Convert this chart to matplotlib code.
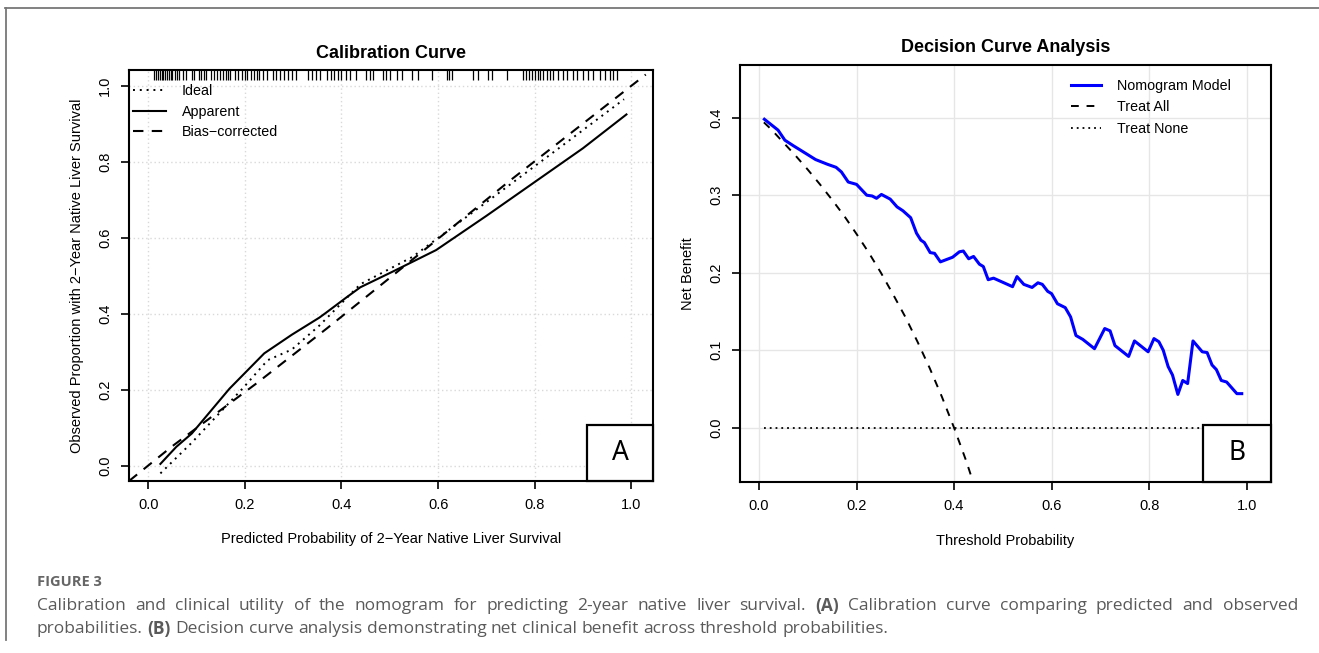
import matplotlib
matplotlib.use('Agg')
import matplotlib.pyplot as plt
from matplotlib.lines import Line2D
from matplotlib.patches import Rectangle

plt.rcParams['font.family'] = ['Liberation Sans', 'DejaVu Sans']

# Kalibrierungskurve (Panel A)
rug_x = [0.012, 0.016, 0.02, 0.024, 0.028, 0.031, 0.035, 0.039, 0.043, 0.047, 0.05,
         0.055, 0.06, 0.064, 0.072, 0.078, 0.09, 0.095, 0.105, 0.11, 0.115, 0.12,
         0.13, 0.136, 0.142, 0.148, 0.155, 0.16, 0.166, 0.17, 0.18, 0.186, 0.195,
         0.2, 0.205, 0.212, 0.218, 0.225, 0.23, 0.238, 0.246, 0.258, 0.265, 0.272,
         0.28, 0.29, 0.298, 0.306, 0.33, 0.338, 0.348, 0.355, 0.37, 0.378, 0.385,
         0.393, 0.4, 0.41, 0.417, 0.43, 0.45, 0.458, 0.465, 0.485, 0.492, 0.5,
         0.515, 0.525, 0.545, 0.558, 0.587, 0.618, 0.622, 0.628, 0.672, 0.683,
         0.703, 0.712, 0.743, 0.776, 0.782, 0.788, 0.795, 0.8, 0.806, 0.812, 0.818,
         0.825, 0.832, 0.838, 0.848, 0.858, 0.867, 0.88, 0.888, 0.9, 0.91, 0.92,
         0.935, 0.945, 0.955, 0.962, 0.97]

ideal_x = [0.025, 0.09, 0.197, 0.247, 0.297, 0.354, 0.439, 0.547, 0.70, 0.85, 0.985]
ideal_y = [-0.02, 0.061, 0.206, 0.278, 0.306, 0.369, 0.478, 0.550, 0.694, 0.836, 0.965]

apparent_x = [0.025, 0.058, 0.09, 0.168, 0.24, 0.297, 0.354, 0.368, 0.411, 0.439,
              0.504, 0.539, 0.596, 0.70, 0.80, 0.90, 0.99]
apparent_y = [0.005, 0.05, 0.085, 0.203, 0.296, 0.345, 0.39, 0.403, 0.444, 0.47,
              0.51, 0.532, 0.568, 0.658, 0.747, 0.836, 0.925]

bias_x = [-0.04, 0.05, 0.225, 0.37, 0.51, 0.75, 1.03]
bias_y = [-0.04, 0.052, 0.218, 0.362, 0.505, 0.752, 1.03]

# Entscheidungskurve (Panel B)
model_x = [0.011, 0.039, 0.053, 0.070, 0.088, 0.116, 0.140, 0.158, 0.169, 0.183,
           0.200, 0.221, 0.232, 0.241, 0.251, 0.269, 0.283, 0.295, 0.311, 0.323,
           0.332, 0.339, 0.351, 0.360, 0.372, 0.397, 0.411, 0.419, 0.430, 0.440,
           0.452, 0.460, 0.470, 0.481, 0.520, 0.529, 0.543, 0.560, 0.572, 0.581,
           0.592, 0.600, 0.612, 0.628, 0.639, 0.650, 0.664, 0.688, 0.709, 0.720,
           0.730, 0.758, 0.770, 0.798, 0.810, 0.820, 0.829, 0.839, 0.848, 0.859,
           0.869, 0.879, 0.890, 0.909, 0.919, 0.929, 0.938, 0.948, 0.959, 0.980,
           0.990]
model_y = [0.398, 0.384, 0.371, 0.364, 0.357, 0.346, 0.340, 0.336, 0.330, 0.317,
           0.314, 0.300, 0.299, 0.296, 0.301, 0.295, 0.285, 0.280, 0.271, 0.251,
           0.242, 0.239, 0.226, 0.225, 0.214, 0.220, 0.227, 0.228, 0.218, 0.221,
           0.211, 0.208, 0.191, 0.193, 0.182, 0.195, 0.185, 0.181, 0.187, 0.185,
           0.176, 0.173, 0.160, 0.155, 0.143, 0.119, 0.114, 0.102, 0.128, 0.125,
           0.106, 0.092, 0.112, 0.098, 0.115, 0.111, 0.100, 0.079, 0.068, 0.043,
           0.061, 0.057, 0.112, 0.098, 0.097, 0.081, 0.075, 0.061, 0.059, 0.044,
           0.044]

all_x = [0.01, 0.025, 0.05, 0.075, 0.1, 0.125, 0.15, 0.175, 0.2, 0.225, 0.25,
         0.275, 0.3, 0.325, 0.35, 0.375, 0.4, 0.425, 0.45]
all_y = [0.394, 0.385, 0.368, 0.351, 0.333, 0.314, 0.294, 0.273, 0.25, 0.226, 0.2,
         0.172, 0.143, 0.111, 0.077, 0.04, 0.0, -0.043, -0.091]

none_x = [0.01, 0.99]
none_y = [0.0, 0.0]

ticks_a = [0.0, 0.2, 0.4, 0.6, 0.8, 1.0]
ticks_b_y = [0.0, 0.1, 0.2, 0.3, 0.4]

fig = plt.figure(figsize=(13.19, 6.53), dpi=100)

# Rahmen der Abbildung
fig.add_artist(Line2D([5 / 1319, 1], [1 - 8 / 653, 1 - 8 / 653], color='#777777', lw=1.3))
fig.add_artist(Line2D([6 / 1319, 6 / 1319], [1 - 8 / 653, 1 - 640 / 653], color='#777777', lw=1.3))


def style_axes(ax):
    for s in ax.spines.values():
        s.set_linewidth(1.5)
        s.set_color('black')
    ax.tick_params(direction='out', length=6, width=1.2, labelsize=10.5, pad=6)
    for lab in ax.get_yticklabels():
        lab.set_rotation(90)
        lab.set_va('center')


def letter_box(ax, letter, x0, h):
    ax.add_patch(Rectangle((x0, 0), 1 - x0, h, transform=ax.transAxes,
                           facecolor='white', edgecolor='black', lw=1.6, zorder=5,
                           clip_on=False))
    ax.text(x0 + (1 - x0) / 2, h / 2, letter, transform=ax.transAxes, ha='center',
            va='center', fontsize=19, family=['Noto Sans', 'DejaVu Sans'], zorder=6)


# Panel A
ax1 = fig.add_axes([129 / 1319, 1 - 481 / 653, 524 / 1319, 411 / 653])
ax1.set_xlim(-0.04, 1.045)
ax1.set_ylim(-0.04, 1.042)
ax1.set_xticks(ticks_a)
ax1.set_yticks(ticks_a)
ax1.set_xticklabels([f'{t:.1f}' for t in ticks_a])
ax1.set_yticklabels([f'{t:.1f}' for t in ticks_a])
ax1.grid(True, color='#d9d9d9', linestyle=(0, (1, 2)), lw=1)
ax1.set_axisbelow(True)
ax1.vlines(rug_x, 0.976, 1.0, transform=ax1.get_xaxis_transform(), color='black', lw=0.9)
ax1.plot(ideal_x, ideal_y, color='black', lw=1.4, linestyle=(0, (1, 2.5)), label='Ideal')
ax1.plot(apparent_x, apparent_y, color='black', lw=1.5, label='Apparent')
ax1.plot(bias_x, bias_y, color='black', lw=1.5, linestyle=(0, (5, 4)), label='Bias\u2212corrected')
style_axes(ax1)
ax1.set_title('Calibration Curve', fontsize=13, fontweight='bold', pad=9)
ax1.set_xlabel('Predicted Probability of 2\u2212Year Native Liver Survival', fontsize=10.5, labelpad=15)
ax1.set_ylabel('Observed Proportion with 2\u2212Year Native Liver Survival', fontsize=10.5, labelpad=10)
ax1.legend(loc='upper left', bbox_to_anchor=(0.0, 0.976), frameon=False, fontsize=10.3,
           handlelength=2.3, handletextpad=1.1, labelspacing=0.46, borderaxespad=0.1,
           borderpad=0.2)
letter_box(ax1, 'A', 0.874, 0.136)

# Panel B
ax2 = fig.add_axes([740 / 1319, 1 - 482 / 653, 531 / 1319, 417 / 653])
ax2.set_xlim(-0.039, 1.05)
ax2.set_ylim(-0.07, 0.468)
ax2.set_xticks(ticks_a)
ax2.set_yticks(ticks_b_y)
ax2.set_xticklabels([f'{t:.1f}' for t in ticks_a])
ax2.set_yticklabels([f'{t:.1f}' for t in ticks_b_y])
ax2.grid(True, color='#e6e6e6', lw=1)
ax2.set_axisbelow(True)
ax2.plot(none_x, none_y, color='black', lw=1.3, linestyle=(0, (1, 2.2)), label='Treat None', zorder=2)
ax2.plot(all_x, all_y, color='black', lw=1.4, linestyle=(0, (4, 4)), label='Treat All', zorder=2)
ax2.plot(model_x, model_y, color='#0000ff', lw=2.2, label='Nomogram Model', zorder=3)
style_axes(ax2)
ax2.set_title('Decision Curve Analysis', fontsize=13, fontweight='bold', pad=9)
ax2.set_xlabel('Threshold Probability', fontsize=10.5, labelpad=15)
ax2.set_ylabel('Net Benefit', fontsize=10.5, labelpad=10)
h, l = ax2.get_legend_handles_labels()
ax2.legend(h[::-1], l[::-1], loc='upper left', bbox_to_anchor=(0.615, 0.976), frameon=False,
           fontsize=10.3, handlelength=2.1, handletextpad=1.1, labelspacing=0.5,
           borderaxespad=0.1, borderpad=0.2)
letter_box(ax2, 'B', 0.872, 0.137)

# Bildunterschrift
cap_font = ['Open Sans', 'DejaVu Sans']
cap_color = '#5a5a5a'
fig.text(37 / 1319, 1 - 582 / 653, 'FIGURE 3', fontsize=10.5, fontweight='bold',
         color='#666666', family=cap_font, va='center')

renderer = fig.canvas.get_renderer()


def draw_line(words, y, x0, x1=None, size=12.5):
    items = []
    for w, bold in words:
        t = fig.text(0, 1 - y / 653, w, fontsize=size, family=cap_font, color=cap_color,
                     fontweight='bold' if bold else 'normal', va='center')
        items.append(t)
    widths = [t.get_window_extent(renderer).width for t in items]
    probe1 = fig.text(0, 0, 'a a', fontsize=size, family=cap_font)
    probe2 = fig.text(0, 0, 'aa', fontsize=size, family=cap_font)
    space = probe1.get_window_extent(renderer).width - probe2.get_window_extent(renderer).width
    probe1.remove()
    probe2.remove()
    gap = space
    if x1 is not None and len(items) > 1:
        gap = (x1 - x0 - sum(widths)) / (len(items) - 1)
    x = x0
    for t, w in zip(items, widths):
        t.set_x(x / 1319)
        x += w + gap


line1 = 'Calibration and clinical utility of the nomogram for predicting 2-year native liver survival.'.split()
line1 = [(w, False) for w in line1] + [('(A)', True)] + \
    [(w, False) for w in 'Calibration curve comparing predicted and observed'.split()]
line2 = [('probabilities.', False), ('(B)', True)] + \
    [(w, False) for w in 'Decision curve analysis demonstrating net clinical benefit across threshold probabilities.'.split()]
draw_line(line1, 606, 37, 1298)
draw_line(line2, 629, 37)

fig.savefig('out.png', dpi=100)
